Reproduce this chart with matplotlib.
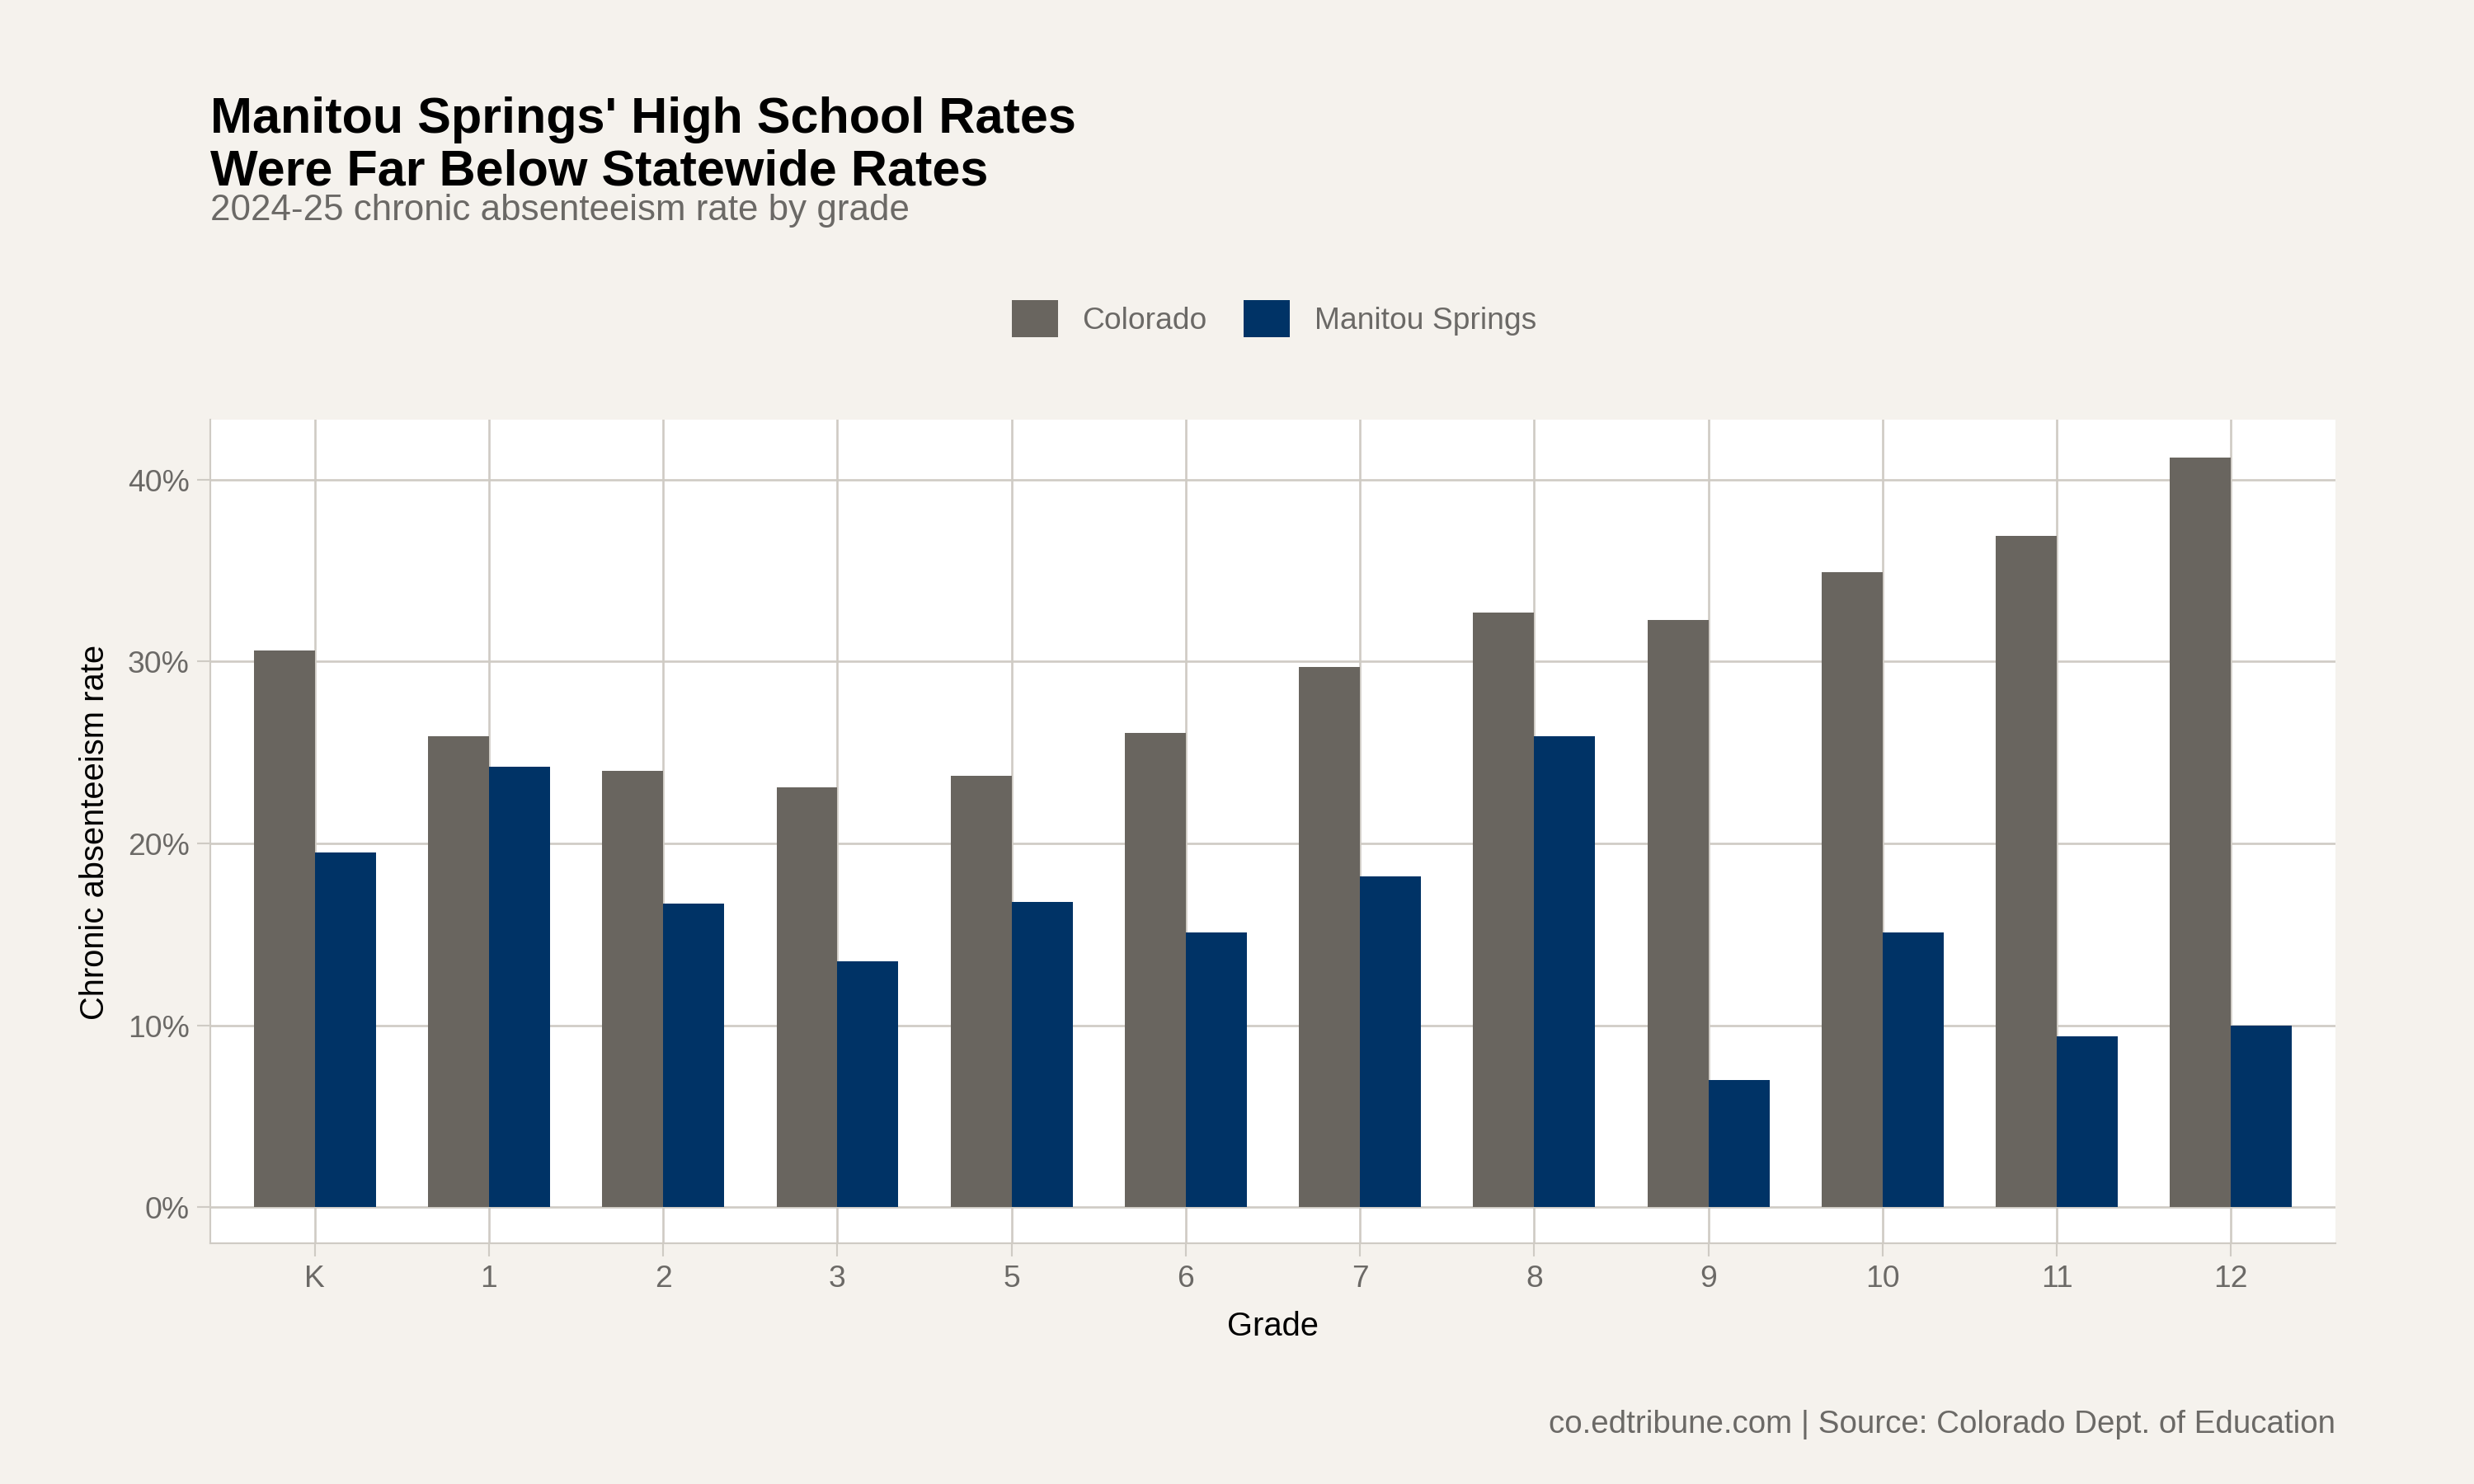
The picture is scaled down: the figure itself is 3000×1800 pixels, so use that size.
import matplotlib.pyplot as plt
import numpy as np
from matplotlib.ticker import FuncFormatter

plt.rcParams["font.family"] = ["Liberation Sans", "DejaVu Sans"]

grades = ["K", "1", "2", "3", "5", "6", "7", "8", "9", "10", "11", "12"]
colorado = [30.6, 25.9, 24.0, 23.1, 23.7, 26.1, 29.7, 32.7, 32.3, 34.9, 36.9, 41.2]
manitou = [19.5, 24.2, 16.7, 13.5, 16.8, 15.1, 18.2, 25.9, 7.0, 15.1, 9.4, 10.0]

bg = "#f5f2ed"
grid_c = "#cfcbc4"
grey_text = "#6b6966"

fig = plt.figure(figsize=(15.68, 9.41), dpi=191.33, facecolor=bg)
ax = fig.add_axes([0.085, 0.162, 0.859, 0.555])
ax.set_facecolor("white")

x = np.arange(len(grades))
w = 0.35
ax.bar(x - w / 2, colorado, w, color="#69655f", label="Colorado", zorder=3)
ax.bar(x + w / 2, manitou, w, color="#003366", label="Manitou Springs", zorder=3)

ax.set_xlim(-0.6, len(grades) - 0.4)
ax.set_ylim(-2, 43.3)
ax.set_yticks([0, 10, 20, 30, 40])
ax.yaxis.set_major_formatter(FuncFormatter(lambda v, p: f"{v:.0f}%"))
ax.set_xticks(x)
ax.set_xticklabels(grades)
ax.grid(True, color=grid_c, linewidth=1, zorder=0)
for s in ["top", "right"]:
    ax.spines[s].set_visible(False)
for s in ["left", "bottom"]:
    ax.spines[s].set_color(grid_c)
ax.tick_params(colors=grid_c, labelcolor=grey_text, labelsize=14, length=6)
ax.set_xlabel("Grade", fontsize=15, color="black", labelpad=8)
ax.set_ylabel("Chronic absenteeism rate", fontsize=15, color="black", labelpad=8)

fig.text(0.085, 0.935, "Manitou Springs' High School Rates\nWere Far Below Statewide Rates",
         fontsize=23, fontweight="bold", va="top", linespacing=1.15)
fig.text(0.085, 0.858, "2024-25 chronic absenteeism rate by grade",
         fontsize=16.5, color=grey_text, va="center")
fig.legend(loc="center", bbox_to_anchor=(0.515, 0.785), ncol=2, frameon=False,
           fontsize=14, labelcolor=grey_text, handlelength=1.5, handleheight=1.5,
           columnspacing=1.2)
fig.text(0.944, 0.03, "co.edtribune.com | Source: Colorado Dept. of Education",
         fontsize=14.5, color=grey_text, ha="right", va="bottom")

fig.savefig("out.png", facecolor=bg)
